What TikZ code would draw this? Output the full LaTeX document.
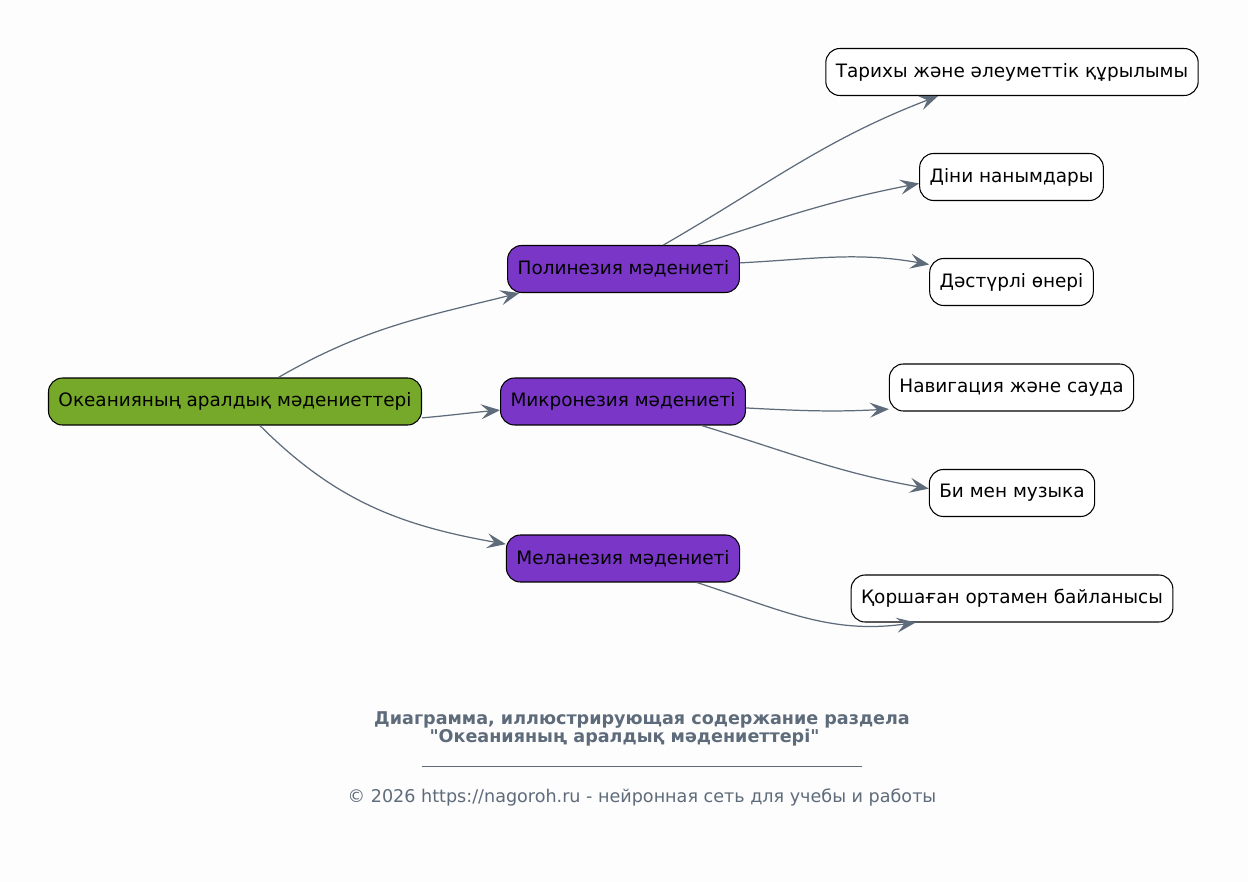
\documentclass[tikz,border=0pt]{standalone}
\usepackage{fontspec}
\setmainfont{DejaVu Sans}[Ligatures=TeXOff]
\usetikzlibrary{arrows.meta}
\definecolor{rootgreen}{HTML}{76A929}
\definecolor{subpurple}{HTML}{7A36C6}
\definecolor{edgegray}{HTML}{5E6B7A}
\definecolor{bgwhite}{HTML}{FDFDFD}
\begin{document}
\begin{tikzpicture}[x=0.02cm,y=-0.02cm,
    box/.style={draw=black, line width=0.6pt, rounded corners=0.28cm, minimum height=0.94cm, inner xsep=0.2cm, font=\fontsize{10.5}{12}\selectfont},
    rootbox/.style={box, fill=rootgreen},
    topicbox/.style={box, fill=subpurple},
    leafbox/.style={box, fill=white},
    link/.style={draw=edgegray, line width=0.7pt, -{Stealth[length=0.38cm, width=0.3cm, inset=0.15cm]}}]
    % background and frame
    \fill[bgwhite] (0,0) rectangle (1248,882);
    % nodes
    \node[rootbox] (root) at (235,401.5) {Океанияның аралдық мәдениеттері};
    \node[topicbox] (poly) at (623.5,269) {Полинезия мәдениеті};
    \node[topicbox] (micro) at (623,401.5) {Микронезия мәдениеті};
    \node[topicbox] (mela) at (623,558.5) {Меланезия мәдениеті};
    \node[leafbox] (history) at (1012,72) {Тарихы және әлеуметтік құрылымы};
    \node[leafbox] (belief) at (1011.5,177) {Діни нанымдары};
    \node[leafbox] (art) at (1011.5,282) {Дәстүрлі өнері};
    \node[leafbox] (navig) at (1011.5,387.5) {Навигация және сауда};
    \node[leafbox] (dance) at (1012,493) {Би мен музыка};
    \node[leafbox] (envir) at (1012,598.5) {Қоршаған ортамен байланысы};
    % links
    \draw[link] (root.29) to[out=30, in=194] (poly.193);
    \draw[link] (root.-5) to[out=5, in=185] (micro.184);
    \draw[link] (root.-44) to[out=-45, in=170] (mela.173);
    \draw[link] (poly.31) to[out=30, in=201] (history.198);
    \draw[link] (poly.18) to[out=18, in=191] (belief.184);
    \draw[link] (poly.3) to[out=3, in=170] (art.168);
    \draw[link] (micro.-3) to[out=-3, in=183] (navig.190);
    \draw[link] (micro.-17) to[out=-17, in=170] (dance.177);
    \draw[link] (mela.-18) to[out=-18, in=188] (envir.194);
    % caption
    \node[text=edgegray, font=\fontsize{10}{10.2}\selectfont\bfseries, align=center] (title) at (642,729) {Диаграмма, иллюстрирующая содержание раздела\\"Океанияның аралдық мәдениеттері"\hspace*{0.7cm}};
    \coordinate (ruleL) at (422,766);
    \coordinate (ruleR) at (862,766);
    \draw[edgegray, line width=0.5pt] (ruleL) -- (ruleR);
    \node[text=edgegray, font=\fontsize{10}{11}\selectfont] (copy) at (642,797) {© 2026 https://nagoroh.ru - нейронная сеть для учебы и работы};
\end{tikzpicture}
\end{document}
